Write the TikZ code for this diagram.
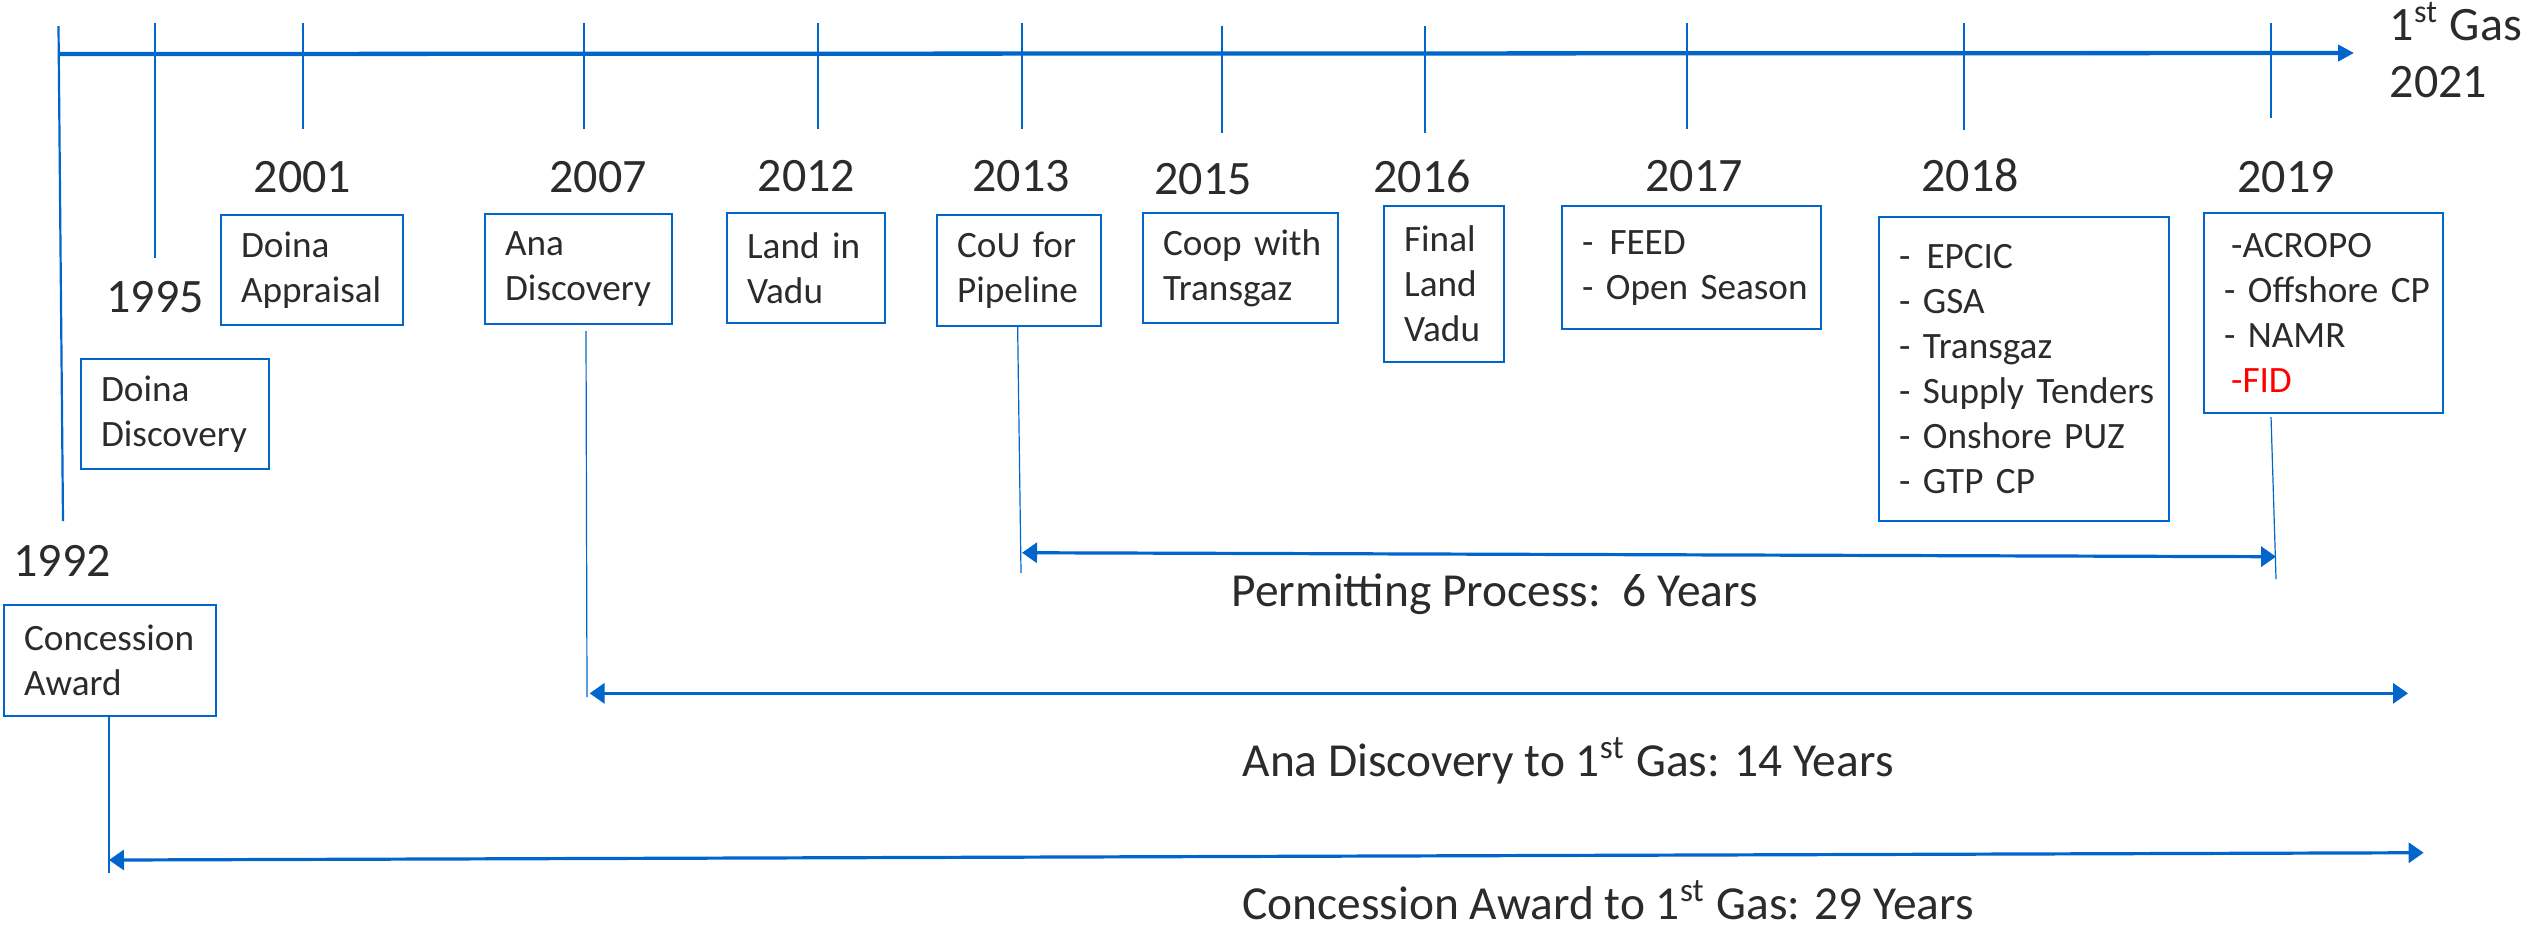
\documentclass[tikz,border=0pt]{standalone}
\usepackage{fontspec}
\setmainfont{Carlito}
\usetikzlibrary{arrows.meta}
\definecolor{tlblue}{HTML}{0066CC}
\definecolor{tltext}{HTML}{2B2B2B}
\definecolor{tlred}{HTML}{FF0000}
\begin{document}
\begin{tikzpicture}[x=0.25pt,y=-0.25pt,
  axisline/.style={draw=tlblue, line width=1.07pt, -{Triangle[length=4pt,width=4pt]}},
  tickline/.style={draw=tlblue, line width=0.55pt},
  thinline/.style={draw=tlblue, line width=0.3pt},
  spanarrow/.style={draw=tlblue, line width=0.8pt, {Triangle[length=3.75pt,width=5pt]}-{Triangle[length=3.75pt,width=5pt]}},
  year/.style={text=tltext, font=\fontsize{12}{14.6}\selectfont, inner sep=0pt},
  evbox/.style={draw=tlblue, line width=0.55pt, text=tltext, font=\fontsize{9.3}{11.25}\selectfont,
    align=left, inner xsep=5pt, inner ysep=0pt, anchor=north west,
    execute at begin node={\hyphenpenalty=10000\exhyphenpenalty=10000\hbadness=10000\hfuzz=50pt}},
  spanlabel/.style={text=tltext, font=\fontsize{11.85}{14}\selectfont, inner sep=0pt, anchor=base}]
\useasboundingbox (0,0) rectangle (2522,926);

% main axis
\coordinate (axS) at (58.5,54);
\coordinate (axE) at (2354,53);
\draw[axisline] (axS) -- (axE);

% ticks
\coordinate (t92a) at (58.5,26);   \coordinate (t92b) at (63,521);
\coordinate (t95a) at (155,23);    \coordinate (t95b) at (155,258);
\coordinate (t01a) at (303,23);    \coordinate (t01b) at (303,129);
\coordinate (t07a) at (584,23);    \coordinate (t07b) at (584,129);
\coordinate (t12a) at (818,23);    \coordinate (t12b) at (818,129);
\coordinate (t13a) at (1022,23);   \coordinate (t13b) at (1022,129);
\coordinate (t15a) at (1222,26);   \coordinate (t15b) at (1222,133);
\coordinate (t16a) at (1424.6,26); \coordinate (t16b) at (1424.6,133);
\coordinate (t17a) at (1687,23);   \coordinate (t17b) at (1687,129);
\coordinate (t18a) at (1963.6,23); \coordinate (t18b) at (1963.6,129.6);
\coordinate (t19a) at (2271,23);   \coordinate (t19b) at (2271,118);
\foreach \t in {92,95,01,07,12,13,15,16,17,18,19}
  \draw[tickline] (t\t a) -- (t\t b);

% year labels
\node[year] (y92) at (62,561) {1992};
\node[year] (y95) at (155,297) {1995};
\node[year] (y01) at (302.5,177) {2001};
\node[year] (y07) at (598,177) {2007};
\node[year] (y12) at (806.5,176) {2012};
\node[year] (y13) at (1021,176) {2013};
\node[year] (y15) at (1203,179) {2015};
\node[year] (y16) at (1422,176) {2016};
\node[year] (y17) at (1694,176) {2017};
\node[year] (y18) at (1970,175) {2018};
\node[year] (y19) at (2286,177) {2019};
\node[year, anchor=base west] (gas1) at (2389,40) {1\textsuperscript{st} Gas};
\node[year, anchor=base west] (gas2) at (2389,97) {2021};

% event boxes
\node[evbox, text width=37pt, minimum height=27.5pt] (dd) at (80,358) {Doina\\Discovery};
\node[evbox, text width=35.5pt, minimum height=27.5pt] (da) at (220,214) {Doina\\Appraisal};
\node[evbox, text width=36.75pt, minimum height=27.5pt] (ad) at (484,213) {Ana\\Discovery};
\node[evbox, text width=29.5pt, minimum height=27.5pt] (lv) at (726,212) {Land~in\\Vadu};
\node[evbox, text width=31pt, minimum height=27.75pt] (cou) at (936,214) {CoU~for\\Pipeline};
\node[evbox, text width=38.75pt, minimum height=27.5pt] (coop) at (1142,212) {Coop~with\\Transgaz};
\node[evbox, text width=20pt, minimum height=39pt] (flv) at (1383,205) {Final\\Land\\Vadu};
\node[evbox, text width=54.75pt, minimum height=30.75pt] (feed) at (1561,205) {-\hspace{4pt}FEED\\-~Open~Season};
\node[evbox, text width=62.5pt, minimum height=76pt] (b18) at (1878,216)
  {-\hspace{4pt}EPCIC\\-~GSA\\-~Transgaz\\-~Supply~Tenders\\-~Onshore~PUZ\\-~GTP~CP};
\node[evbox, text width=49.75pt, minimum height=50pt] (b19) at (2203,212)
  {\hspace*{1.75pt}-ACROPO\\-~Offshore~CP\\-~NAMR\\\hspace*{1.75pt}\textcolor{tlred}{-FID}};
\node[evbox, text width=43pt, minimum height=27.75pt] (ca) at (3,604) {Concession\\Award};

% drop lines
\coordinate (adD1) at (586,331);   \coordinate (adD2) at (587,697);
\coordinate (couD1) at (1017.6,325); \coordinate (couD2) at (1021,573);
\coordinate (b19D1) at (2271,417); \coordinate (b19D2) at (2276,579);
\coordinate (caD1) at (109,715);   \coordinate (caD2) at (109,873);
\draw[thinline] (adD1) -- (adD2);
\draw[thinline] (couD1) -- (couD2);
\draw[thinline] (b19D1) -- (b19D2);
\draw[thinline] (caD1) -- (caD2);

% span arrows
\coordinate (pL) at (1022,552.7); \coordinate (pR) at (2276,556.7);
\coordinate (aL) at (589.6,693.3); \coordinate (aR) at (2408,693.3);
\coordinate (cL) at (109,860);     \coordinate (cR) at (2423.6,852.7);
\draw[spanarrow] (pL) -- (pR);
\draw[spanarrow] (aL) -- (aR);
\draw[spanarrow] (cL) -- (cR);

\node[spanlabel] (pl) at (1494.5,606.7) {Permitting Process:\ \ 6 Years};
\node[spanlabel] (al) at (1568,776) {Ana Discovery to 1\textsuperscript{st} Gas: 14 Years};
\node[spanlabel] (cl) at (1608,919) {Concession Award to 1\textsuperscript{st} Gas: 29 Years};
\end{tikzpicture}
\end{document}
